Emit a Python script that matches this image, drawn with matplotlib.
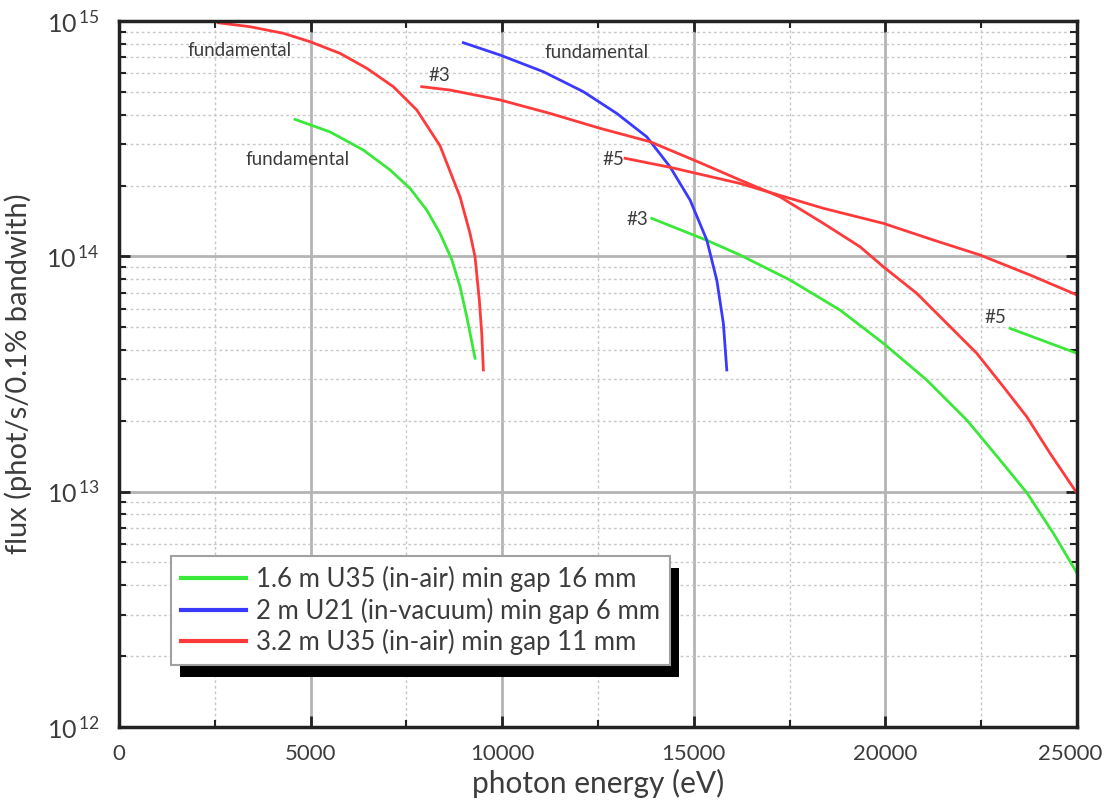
import numpy as np
import matplotlib
matplotlib.use("Agg")
import matplotlib.pyplot as plt
from matplotlib.ticker import FixedLocator, LogLocator, NullFormatter, FuncFormatter
from matplotlib.patches import Rectangle
from matplotlib.transforms import ScaledTranslation

plt.rcParams['font.family'] = ['Lato', 'DejaVu Sans']
plt.rcParams['mathtext.fontset'] = 'custom'
plt.rcParams['mathtext.rm'] = 'Lato'
plt.rcParams['mathtext.it'] = 'Lato'

TEXT = '#3c3c3c'

# flux curves (eV, phot/s/0.1% bw)
green_fund_e = [4593, 5506, 6375, 7072, 7594, 8030, 8377, 8682, 8899, 9074, 9290]
green_fund_f = [3.82e14, 3.38e14, 2.83e14, 2.33e14, 1.945e14, 1.573e14, 1.252e14,
                9.7e13, 7.43e13, 5.54e13, 3.69e13]
green_h3_e = [13901, 15337, 16206, 17510, 18815, 19945, 21078, 22122, 22991, 23687, 24381, 25000]
green_h3_f = [1.45e14, 1.17e14, 1.013e14, 7.93e13, 5.91e13, 4.27e13, 2.98e13, 2.015e13,
              1.362e13, 9.9e12, 6.65e12, 4.5e12]
green_h5_e = [23252, 25000]
green_h5_f = [4.94e13, 3.87e13]

blue_fund_e = [8985, 9943, 11072, 12116, 12988, 13771, 14379, 14901, 15337, 15598, 15770, 15859]
blue_fund_f = [8.09e14, 7.17e14, 6.09e14, 5.01e14, 4.05e14, 3.22e14, 2.40e14, 1.735e14,
               1.173e14, 7.93e13, 5.19e13, 3.29e13]

red_fund_e = [2591, 3419, 4288, 4984, 5767, 6464, 7158, 7769, 8377, 8899,
              9160, 9290, 9402, 9465, 9507]
red_fund_f = [9.83e14, 9.46e14, 8.87e14, 8.17e14, 7.29e14, 6.30e14, 5.26e14, 4.19e14,
              2.95e14, 1.79e14, 1.25e14, 9.96e13, 6.52e13, 4.71e13, 3.29e13]
red_h3_e = [7899, 8638, 9943, 11247, 12552, 13857, 15162, 16206, 17249, 18379, 19337,
            19945, 20817, 21600, 22383, 23077, 23687, 24295, 25000]
red_h3_f = [5.26e14, 5.09e14, 4.62e14, 4.05e14, 3.50e14, 3.07e14, 2.50e14, 2.11e14,
            1.79e14, 1.381e14, 1.098e14, 9.03e13, 6.96e13, 5.19e13, 3.87e13, 2.79e13,
            2.08e13, 1.455e13, 9.83e12]
red_h5_e = [13205, 14379, 16206, 18379, 19945, 21250, 22469, 23773, 25000]
red_h5_f = [2.61e14, 2.39e14, 2.04e14, 1.60e14, 1.381e14, 1.173e14, 1.013e14, 8.33e13, 6.85e13]

legend_labels = ['1.6 m U35 (in-air) min gap 16 mm',
                 '2 m U21 (in-vacuum) min gap 6 mm',
                 '3.2 m U35 (in-air) min gap 11 mm']

# curve annotations (text, energy, flux)
notes = [('fundamental', 3158, 7.53e14),
         ('fundamental', 4671, 2.59e14),
         ('#3', 8351, 5.84e14),
         ('fundamental', 12474, 7.38e14),
         ('#5', 12891, 2.59e14),
         ('#3', 13518, 1.44e14),
         ('#5', 22860, 5.47e13)]

GREEN = '#3ae83a'
BLUE = '#3a3aff'
RED = '#ff3a3a'
lw = 2.0

fig = plt.figure(figsize=(11.07, 8.09), dpi=100)
ax = fig.add_axes([0.1075, 0.1014, 0.8655, 0.8726])

ax.plot(green_fund_e, green_fund_f, color=GREEN, lw=lw, label=legend_labels[0])
ax.plot(green_h3_e, green_h3_f, color=GREEN, lw=lw)
ax.plot(green_h5_e, green_h5_f, color=GREEN, lw=lw)
ax.plot(blue_fund_e, blue_fund_f, color=BLUE, lw=lw, label=legend_labels[1])
ax.plot(red_fund_e, red_fund_f, color=RED, lw=lw, label=legend_labels[2])
ax.plot(red_h3_e, red_h3_f, color=RED, lw=lw)
ax.plot(red_h5_e, red_h5_f, color=RED, lw=lw)

for txt, e, f in notes:
    ax.text(e, f, txt, fontsize=13.5, color=TEXT, ha='center', va='center')

ax.set_yscale('log')
ax.set_xlim(0, 25000)
ax.set_ylim(1e12, 1e15)

ax.xaxis.set_major_locator(FixedLocator([0, 5000, 10000, 15000, 20000, 25000]))
ax.xaxis.set_minor_locator(FixedLocator([2500, 7500, 12500, 17500, 22500]))
ax.yaxis.set_major_locator(LogLocator(base=10, numticks=10))
ax.yaxis.set_major_formatter(FuncFormatter(
    lambda v, p: r'$10^{\,%d}$' % int(round(np.log10(v)))))
ax.yaxis.set_minor_locator(LogLocator(base=10, subs=np.arange(2, 10), numticks=20))
ax.yaxis.set_minor_formatter(NullFormatter())

ax.grid(True, which='major', color='#b4b4b4', lw=2.0, ls='-')
ax.grid(True, which='minor', color='#c8c8c8', lw=1.0, ls=(0, (2, 2)))
ax.set_axisbelow(True)

ax.tick_params(which='both', direction='in', top=True, right=True,
               colors='#222222', labelcolor=TEXT)
ax.tick_params(which='major', length=8, width=2, labelsize=16, pad=12)
ax.tick_params(axis='y', which='major', labelsize=18, pad=14)
ax.tick_params(which='minor', length=5, width=1.5)
for s in ax.spines.values():
    s.set_linewidth(2.5)
    s.set_color('#222222')

ax.set_xlabel('photon energy (eV)', fontsize=21.5, color=TEXT, labelpad=4)
ax.set_ylabel('flux (phot/s/0.1% bandwith)', fontsize=21, color=TEXT, labelpad=10)

leg = ax.legend(loc='upper left', bbox_to_anchor=(0.0543, 0.2422), borderaxespad=0,
                fontsize=18.5, fancybox=False, framealpha=1, edgecolor='#a0a0a0',
                handlelength=2.5, handletextpad=0.4, labelspacing=0.2,
                borderpad=0.4)
leg.get_frame().set_linewidth(1.5)
for t in leg.get_texts():
    t.set_color(TEXT)
for h in leg.get_lines():
    h.set_linewidth(3)

# hard black drop shadow behind the legend box
fig.canvas.draw()
bb = leg.get_window_extent()
shadow = Rectangle((bb.x0 + 9, bb.y0 - 12), bb.width, bb.height, transform=None,
                   facecolor='black', edgecolor='none', zorder=4.9)
ax.add_artist(shadow)
leg.set_zorder(5)

# keep the last x tick label inside the canvas
last = ax.get_xticklabels()[-1]
last.set_transform(last.get_transform() + ScaledTranslation(-5 / 72, 0, fig.dpi_scale_trans))

fig.savefig('out.png', dpi=100)
